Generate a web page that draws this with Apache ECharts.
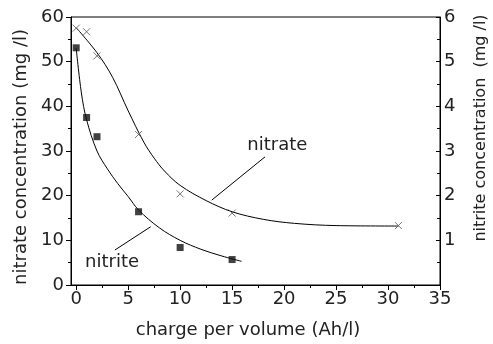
<!DOCTYPE html>
<html>
<head>
<meta charset="utf-8">
<script src="https://cdn.jsdelivr.net/npm/echarts@6/dist/echarts.min.js"></script>
<style>html,body{margin:0;padding:0;background:#fff}#c{width:493px;height:344px}</style>
</head>
<body>
<div id="c"></div>
<script>
// measured points
const nitrateX = [0, 1, 2, 6, 10, 15, 31];
const nitrateY = [57.5, 56.7, 51.3, 33.7, 20.4, 16.1, 13.3];
const nitriteX = [0, 1, 2, 6, 10, 15];
const nitriteY = [5.31, 3.75, 3.32, 1.64, 0.84, 0.57];
// fitted curves
const nitrateFitX = [0, 2, 3.5, 5, 6.5, 7.5, 8.5, 10, 12.5, 15, 18, 21, 25, 31];
const nitrateFitY = [57.6, 52, 46.5, 39, 32, 28.4, 25.5, 22.3, 18.9, 16.4, 14.7, 13.8, 13.3, 13.2];
const nitriteFitX = [0, 0.5, 1, 2, 3, 4, 5, 6, 8, 10, 12, 14, 15.9];
const nitriteFitY = [5.3, 4.3, 3.7, 3.0, 2.6, 2.27, 1.98, 1.68, 1.28, 1.0, 0.8, 0.65, 0.53];
// axes
const xMajorTicks = [0, 5, 10, 15, 20, 25, 30, 35];
const xMinorTicks = [2.5, 7.5, 12.5, 17.5, 22.5, 27.5, 32.5];
const xTitle = 'charge per volume (Ah/l)';
const yLeftTitle = 'nitrate concentration (mg /l)';
const yRightTitle = 'nitrite concentration  (mg /l)';
// annotations (data coordinates, left axis)
const nitrateLabel = {text: 'nitrate', at: [19.35, 31.3], line: [[13.04, 19.0], [18.17, 28.7]]};
const nitriteLabel = {text: 'nitrite', at: [3.45, 5.15], line: [[3.73, 7.84], [7.17, 13.05]]};

const zip = (a, b) => a.map((v, i) => [v, b[i]]);
const FONT = 'DejaVu Sans';
const TXT = '#222';

const chart = echarts.init(document.getElementById('c'), null, {renderer: 'canvas'});
chart.setOption({
  animation: false,
  backgroundColor: '#fff',
  grid: {left: 71, right: 53, top: 17, bottom: 59, show: true, borderColor: '#000', borderWidth: 1, backgroundColor: 'transparent'},
  xAxis: [{
    type: 'value', min: -0.5, max: 35, position: 'bottom',
    axisLine: {show: true, onZero: false, lineStyle: {color: '#000', width: 1}},
    axisTick: {show: true, inside: false, length: 5, customValues: xMajorTicks, lineStyle: {color: '#000'}},
    axisLabel: {show: true, customValues: xMajorTicks, margin: 5, color: TXT, fontFamily: FONT, fontSize: 18},
    splitLine: {show: false},
    name: xTitle, nameLocation: 'middle', nameGap: 36,
    nameTextStyle: {color: TXT, fontFamily: FONT, fontSize: 18, padding: [0, 15, 0, 0]}
  }, {
    type: 'value', min: -0.5, max: 35, position: 'bottom', offset: 0,
    axisLine: {show: false, onZero: false},
    axisTick: {show: true, inside: false, length: 3, customValues: xMinorTicks, lineStyle: {color: '#000'}},
    axisLabel: {show: false},
    splitLine: {show: false}
  }],
  yAxis: [{
    type: 'value', min: 0, max: 60, interval: 10, position: 'left',
    axisLine: {show: true, onZero: false, lineStyle: {color: '#000'}},
    axisTick: {show: true, inside: false, length: 5, lineStyle: {color: '#000'}},
    minorTick: {show: true, splitNumber: 2, length: 3, lineStyle: {color: '#000'}},
    axisLabel: {margin: 7, color: TXT, fontFamily: FONT, fontSize: 18},
    splitLine: {show: false}
  }, {
    type: 'value', min: 0, max: 6, interval: 1, position: 'right',
    axisLine: {show: true, onZero: false, lineStyle: {color: '#000'}},
    axisTick: {show: true, inside: true, length: 4, lineStyle: {color: '#000'}},
    minorTick: {show: true, splitNumber: 2, length: 3, lineStyle: {color: '#000'}},
    axisLabel: {margin: 4, color: TXT, fontFamily: FONT, fontSize: 18, showMinLabel: false},
    splitLine: {show: false}
  }],
  graphic: [
    {type: 'text', x: 21, y: 157, rotation: Math.PI / 2, style: {text: yLeftTitle, fill: TXT, font: '18px "DejaVu Sans"', align: 'center', verticalAlign: 'middle'}},
    {type: 'text', x: 481, y: 128, rotation: Math.PI / 2, style: {text: yRightTitle, fill: TXT, font: '16px "DejaVu Sans"', align: 'center', verticalAlign: 'middle'}}
  ],
  series: [
    {
      type: 'line', name: 'nitrate fit', xAxisIndex: 0, yAxisIndex: 0,
      data: zip(nitrateFitX, nitrateFitY), smooth: 0.35, showSymbol: false, symbol: 'none',
      lineStyle: {color: '#000', width: 1}, silent: true, z: 2,
      markLine: {
        silent: true, symbol: ['none', 'none'], animation: false,
        lineStyle: {color: '#000', width: 1, type: 'solid'}, label: {show: false},
        data: [
          [{coord: nitrateLabel.line[0]}, {coord: nitrateLabel.line[1]}],
          [{coord: nitriteLabel.line[0]}, {coord: nitriteLabel.line[1]}]
        ]
      },
      markPoint: {
        silent: true, symbol: 'circle', symbolSize: 0, animation: false,
        label: {show: true, position: 'inside', color: TXT, fontFamily: FONT, fontSize: 18, formatter: p => p.name},
        data: [
          {name: nitrateLabel.text, coord: nitrateLabel.at},
          {name: nitriteLabel.text, coord: nitriteLabel.at}
        ]
      }
    },
    {
      type: 'line', name: 'nitrite fit', xAxisIndex: 0, yAxisIndex: 1,
      data: zip(nitriteFitX, nitriteFitY), smooth: 0.35, showSymbol: false, symbol: 'none',
      lineStyle: {color: '#000', width: 1}, silent: true, z: 2
    },
    {
      type: 'scatter', name: 'nitrate', xAxisIndex: 0, yAxisIndex: 0,
      data: zip(nitrateX, nitrateY), symbol: 'path://M0,0L10,10M10,0L0,10', symbolSize: 7,
      itemStyle: {color: 'none', borderColor: '#555', borderWidth: 1}, z: 3
    },
    {
      type: 'scatter', name: 'nitrite', xAxisIndex: 0, yAxisIndex: 1,
      data: zip(nitriteX, nitriteY), symbol: 'rect', symbolSize: 7,
      itemStyle: {color: '#111'}, z: 3
    }
  ]
});
</script>
</body>
</html>
